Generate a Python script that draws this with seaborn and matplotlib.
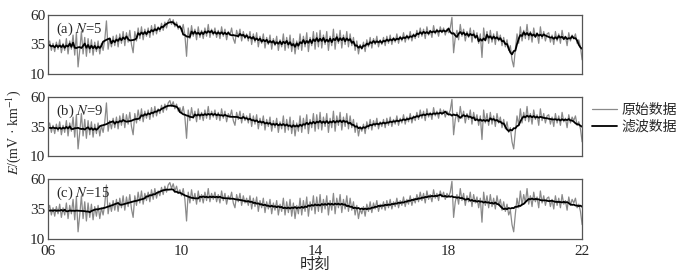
import numpy as np
import pandas as pd
import matplotlib
matplotlib.use("Agg")
import matplotlib.pyplot as plt
import seaborn as sns

# raw E values, one value every 3 minutes, 06:00 -> 22:00
raw_06 = [34, 38, 30, 36, 29, 37, 31, 39, 28, 36, 30, 40, 27, 38, 31, 43, 26, 45, 16, 30]
raw_07 = [46, 27, 41, 25, 40, 28, 39, 26, 37, 29, 38, 27, 36, 30, 39, 55, 31, 40, 33, 42]
raw_08 = [34, 43, 33, 44, 36, 46, 34, 45, 37, 47, 35, 28, 46, 38, 49, 40, 50, 39, 48, 42]
raw_09 = [49, 41, 51, 43, 52, 44, 50, 46, 53, 47, 54, 49, 55, 57, 52, 56, 50, 54, 48, 51]
raw_10 = [46, 52, 43, 25, 49, 40, 51, 42, 48, 39, 50, 41, 47, 40, 49, 42, 52, 41, 48, 43]
raw_11 = [49, 41, 47, 40, 50, 42, 48, 39, 46, 43, 49, 40, 36, 47, 41, 48, 38, 46, 40, 44]
raw_12 = [38, 46, 35, 44, 37, 45, 33, 42, 36, 44, 32, 41, 35, 43, 31, 40, 34, 42, 30, 39]
raw_13 = [33, 44, 30, 41, 32, 43, 29, 40, 27, 38, 31, 44, 30, 42, 33, 45, 29, 41, 34, 46]
raw_14 = [31, 45, 33, 47, 32, 43, 35, 46, 30, 42, 34, 48, 31, 44, 36, 47, 32, 43, 35, 46]
raw_15 = [33, 44, 34, 41, 30, 38, 27, 35, 31, 37, 29, 39, 33, 41, 32, 40, 35, 42, 33, 39]
raw_16 = [35, 41, 34, 42, 36, 43, 35, 41, 37, 44, 36, 42, 38, 45, 37, 43, 39, 46, 38, 44]
raw_17 = [40, 47, 41, 49, 42, 48, 40, 50, 43, 47, 41, 51, 44, 48, 42, 50, 45, 49, 43, 48]
raw_18 = [45, 49, 58, 28, 41, 47, 39, 52, 42, 48, 38, 46, 41, 49, 37, 47, 40, 45, 36, 44]
raw_19 = [24, 49, 38, 46, 36, 47, 37, 44, 35, 46, 38, 43, 34, 41, 33, 39, 30, 34, 22, 16]
raw_20 = [31, 44, 36, 50, 38, 47, 40, 52, 39, 46, 37, 49, 41, 45, 36, 50, 40, 46, 38, 44]
raw_21 = [45, 37, 43, 35, 46, 38, 44, 36, 47, 39, 42, 34, 45, 38, 43, 40, 44, 36, 39, 33]
raw_22 = [22]

raw = (raw_06 + raw_07 + raw_08 + raw_09 + raw_10 + raw_11 + raw_12 + raw_13 +
       raw_14 + raw_15 + raw_16 + raw_17 + raw_18 + raw_19 + raw_20 + raw_21 + raw_22)
hours = np.linspace(6, 22, len(raw))

windows = [5, 9, 15]
panel_tags = ["(a)", "(b)", "(c)"]
x_ticks = [6, 10, 14, 18, 22]
x_ticklabels = ["06", "10", "14", "18", "22"]
y_ticks = [10, 35, 60]

sns.set_style("white")
plt.rcParams["font.family"] = ["Liberation Serif", "Noto Sans CJK SC", "DejaVu Sans"]
plt.rcParams["mathtext.fontset"] = "stix"

fig = plt.figure(figsize=(7, 2.73), dpi=100)
boxes = [(0.0686, 0.729, 0.763, 0.216),
         (0.0686, 0.4286, 0.763, 0.216),
         (0.0686, 0.1245, 0.763, 0.22)]

df = pd.DataFrame({"hour": hours, "E": raw})

for i, (box, n, tag) in enumerate(zip(boxes, windows, panel_tags)):
    ax = fig.add_axes(box)
    # moving-average filter with window N
    df["filt"] = df["E"].rolling(n, center=True, min_periods=1).mean()
    sns.lineplot(data=df, x="hour", y="E", ax=ax, color="#8a8a8a", lw=0.9,
                 label="原始数据" if i == 0 else None, legend=False)
    sns.lineplot(data=df, x="hour", y="filt", ax=ax, color="black", lw=1.3,
                 label="滤波数据" if i == 0 else None, legend=False)
    ax.set_xlim(6, 22)
    ax.set_ylim(10, 60)
    ax.set_xticks(x_ticks)
    ax.set_yticks(y_ticks)
    ax.set_yticklabels([str(v) for v in y_ticks], fontsize=11)
    if i == 2:
        ax.set_xticklabels(x_ticklabels, fontsize=11)
        ax.set_xlabel("时刻", fontsize=11, labelpad=0)
    else:
        ax.set_xticklabels([])
        ax.set_xlabel("")
    ax.set_ylabel("")
    ax.tick_params(axis="x", direction="in", length=3, width=0.8,
                   color="#444444", pad=4)
    ax.tick_params(axis="y", length=0, pad=2)
    for sp in ax.spines.values():
        sp.set_color("#555555")
        sp.set_linewidth(0.9)
    ax.text(0.015, 0.9, f"{tag} $N$={n}", transform=ax.transAxes,
            fontsize=10.5, va="top", ha="left")

fig.text(0.019, 0.515, r"$E$/(mV · km$^{-1}$)", rotation=90, fontsize=10,
         ha="center", va="center")

handles, labels = fig.axes[0].get_legend_handles_labels()
fig.legend(handles, labels, loc="center left", bbox_to_anchor=(0.845, 0.565),
           frameon=False, fontsize=10, handlelength=1.8, handletextpad=0.35,
           labelspacing=0.25, borderpad=0, borderaxespad=0)

fig.savefig("out.png", dpi=100)
